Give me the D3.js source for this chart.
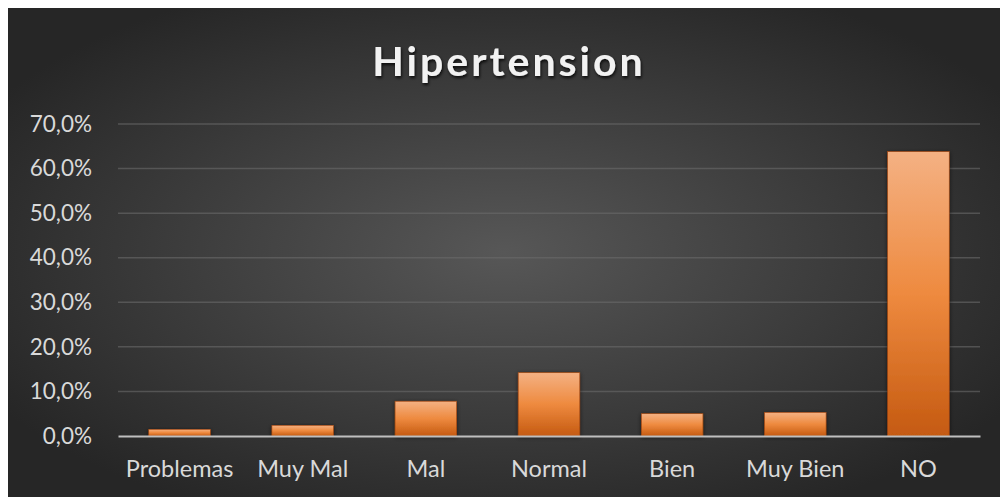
<!DOCTYPE html>
<html>
<head>
<meta charset="utf-8">
<style>
  body { margin: 0; background: #fff; }
  svg { display: block; }
</style>
</head>
<body>
<svg width="1000" height="497"></svg>
<script src="https://d3js.org/d3.v7.min.js"></script>
<script>

// chart data
var categories = ['Problemas', 'Muy Mal', 'Mal', 'Normal', 'Bien', 'Muy Bien', 'NO']
var values = [1.5, 2.4, 7.8, 14.2, 5.0, 5.3, 63.8]
var yTicks = [0, 10, 20, 30, 40, 50, 60, 70]
var title = 'Hipertension'

var width = 1000
var height = 497
var margin = { top: 124, right: 20, bottom: 61, left: 118 }

var svg = d3.select('svg')
var defs = svg.append('defs')

// background radial gradient
var bg = defs.append('radialGradient')
  .attr('id', 'bg')
  .attr('cx', '50%').attr('cy', '50%').attr('r', '60%')
bg.append('stop').attr('offset', '0%').attr('stop-color', '#575757')
bg.append('stop').attr('offset', '100%').attr('stop-color', '#262626')

// bar gradient
var barGrad = defs.append('linearGradient')
  .attr('id', 'barGrad')
  .attr('x1', 0).attr('y1', 0).attr('x2', 0).attr('y2', 1)
barGrad.append('stop').attr('offset', '0%').attr('stop-color', '#f4b183')
barGrad.append('stop').attr('offset', '50%').attr('stop-color', '#ee8a3f')
barGrad.append('stop').attr('offset', '100%').attr('stop-color', '#c55a11')

var shadow = defs.append('filter').attr('id', 'shadow')
  .attr('x', '-20%').attr('y', '-20%').attr('width', '140%').attr('height', '140%')
shadow.append('feDropShadow')
  .attr('dx', 0).attr('dy', 1).attr('stdDeviation', 2)
  .attr('flood-color', '#000').attr('flood-opacity', 0.6)

var textShadow = defs.append('filter').attr('id', 'textShadow')
textShadow.append('feDropShadow')
  .attr('dx', 1).attr('dy', 2).attr('stdDeviation', 1.5)
  .attr('flood-color', '#000').attr('flood-opacity', 0.8)

svg.append('rect')
  .attr('x', 8).attr('y', 8)
  .attr('width', width - 8).attr('height', height - 8)
  .attr('fill', 'url(#bg)')

// title
svg.append('text')
  .attr('x', 509).attr('y', 76)
  .attr('text-anchor', 'middle')
  .attr('font-family', 'Lato, "Open Sans", sans-serif')
  .attr('font-weight', 'bold')
  .attr('font-size', 41)
  .attr('letter-spacing', 3)
  .attr('fill', '#f2f2f2')
  .attr('filter', 'url(#textShadow)')
  .text(title)

var x = d3.scaleBand()
  .domain(categories)
  .range([margin.left, width - margin.right])
  .paddingInner(0.5)
  .paddingOuter(0.25)

var y = d3.scaleLinear()
  .domain([0, 70])
  .range([height - margin.bottom, margin.top])

var fmt = function (d) { return d.toFixed(1).replace('.', ',') + '%' }

// gridlines
svg.append('g')
  .selectAll('line')
  .data(yTicks.filter(function (d) { return d > 0 }))
  .join('line')
  .attr('x1', margin.left).attr('x2', width - margin.right)
  .attr('y1', function (d) { return y(d) }).attr('y2', function (d) { return y(d) })
  .attr('stroke', '#6a6a6a')
  .attr('stroke-opacity', 0.6)
  .attr('stroke-width', 1.5)

// y axis labels
var yAxis = d3.axisLeft(y).tickValues(yTicks).tickFormat(fmt).tickSize(0).tickPadding(26)
var yg = svg.append('g')
  .attr('transform', 'translate(' + margin.left + ',0)')
  .call(yAxis)
yg.select('.domain').remove()
yg.selectAll('text')
  .attr('font-family', 'Lato, "Open Sans", sans-serif')
  .attr('font-size', 22.5)
  .attr('fill', '#d9d9d9')

// bars
svg.append('g')
  .selectAll('rect')
  .data(values)
  .join('rect')
  .attr('x', function (d, i) { return x(categories[i]) })
  .attr('width', x.bandwidth())
  .attr('y', function (d) { return y(d) })
  .attr('height', function (d) { return y(0) - y(d) })
  .attr('fill', 'url(#barGrad)')
  .attr('stroke', '#a9470c')
  .attr('stroke-width', 0.6)
  .attr('filter', 'url(#shadow)')

// x axis
var xAxis = d3.axisBottom(x).tickSize(0).tickPadding(24)
var xg = svg.append('g')
  .attr('transform', 'translate(0,' + y(0) + ')')
  .call(xAxis)
xg.select('.domain')
  .attr('stroke', '#bfbfbf')
  .attr('stroke-width', 2.2)
xg.selectAll('text')
  .attr('font-family', 'Lato, "Open Sans", sans-serif')
  .attr('font-size', 23.5)
  .attr('fill', '#d9d9d9')

</script>
</body>
</html>
